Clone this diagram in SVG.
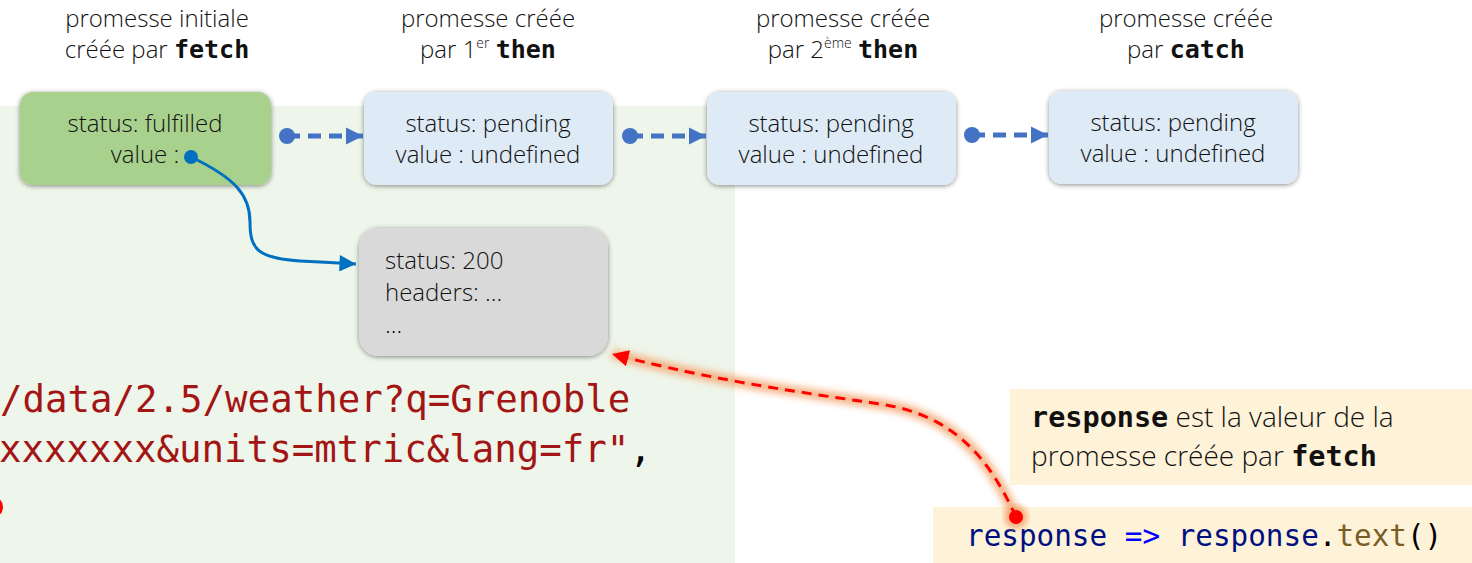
<svg xmlns="http://www.w3.org/2000/svg" width="1472" height="563" viewBox="0 0 1472 563">
<defs>
<style>
.lbl{font-family:"Open Sans","Noto Sans",sans-serif;font-weight:300;font-size:24px;fill:#111;text-anchor:middle}
.kw{font-family:"DejaVu Sans Mono","Liberation Mono",monospace;font-weight:bold;font-size:25px;fill:#111}
.sup{font-size:14px}
.bx{font-family:"Open Sans","Noto Sans",sans-serif;font-weight:300;font-size:24px;fill:#111}
.code{font-family:"DejaVu Sans Mono","Liberation Mono",monospace;font-size:37.4px;fill:#A31515}
.code2{font-family:"DejaVu Sans Mono","Liberation Mono",monospace;font-size:29.3px}
.note{font-family:"Open Sans","Noto Sans",sans-serif;font-weight:300;font-size:28px;fill:#111}
.notekw{font-family:"DejaVu Sans Mono","Liberation Mono",monospace;font-weight:bold;font-size:28.5px;fill:#111}
.dash{fill:none;stroke:#4472C4;stroke-width:5;stroke-dasharray:13 8}
</style>
<filter id="sh" x="-10%" y="-10%" width="120%" height="130%">
<feDropShadow dx="0" dy="1" stdDeviation="2.5" flood-color="#000" flood-opacity="0.45"/>
</filter>
<filter id="glow" x="-10%" y="-10%" width="120%" height="120%">
<feGaussianBlur stdDeviation="3.5"/>
</filter>
<marker id="ab" viewBox="0 0 10 10" refX="10" refY="5" markerWidth="3.4" markerHeight="3.6" orient="auto" markerUnits="strokeWidth">
<path d="M0,0 L10,5 L0,10 Z" fill="#4472C4"/>
</marker>
<marker id="ab2" viewBox="0 0 10 10" refX="10" refY="5" markerWidth="6" markerHeight="5.5" orient="auto" markerUnits="strokeWidth">
<path d="M0,0 L10,5 L0,10 Z" fill="#0070C0"/>
</marker>
<marker id="ar" viewBox="0 0 10 10" refX="10" refY="5" markerWidth="6" markerHeight="5.5" orient="auto" markerUnits="strokeWidth">
<path d="M0,0 L10,5 L0,10 Z" fill="#FF0000"/>
</marker>
</defs>
<rect x="0" y="0" width="1472" height="563" fill="#fff"/>
<rect id="bg-green" x="0" y="106" width="735" height="457" fill="#EEF5EA"/>

<g id="code">
<text class="code" x="0" y="412">/data/2.5/weather?q=Grenoble</text>
<text class="code" x="-1" y="462">xxxxxxx&amp;units=mtric&amp;lang=fr"<tspan fill="#000">,</tspan></text>
<ellipse cx="-8" cy="507" rx="11" ry="11" fill="#FF0000"/>
</g>

<g id="labels">
<text class="lbl" x="157" y="27">promesse initiale</text>
<text class="lbl" x="157" y="58">créée par <tspan class="kw">fetch</tspan></text>
<text class="lbl" x="488" y="27">promesse créée</text>
<text class="lbl" x="488" y="58">par 1<tspan class="sup" dy="-10">er</tspan><tspan dy="10"> </tspan><tspan class="kw">then</tspan></text>
<text class="lbl" x="843" y="27">promesse créée</text>
<text class="lbl" x="843" y="58">par 2<tspan class="sup" dy="-10">ème</tspan><tspan dy="10"> </tspan><tspan class="kw">then</tspan></text>
<text class="lbl" x="1186" y="27">promesse créée</text>
<text class="lbl" x="1186" y="58">par <tspan class="kw">catch</tspan></text>
</g>

<g id="node-fetch">
<rect x="20" y="92" width="251" height="93" rx="13" fill="#A9D18E" filter="url(#sh)"/>
<text class="bx" x="145" y="132" text-anchor="middle">status: fulfilled</text>
<text class="bx" x="145" y="163" text-anchor="middle">value :</text>
</g>
<g id="node-then1">
<rect x="364" y="92" width="249" height="93" rx="13" fill="#DEEAF6" filter="url(#sh)"/>
<text class="bx" x="488" y="132" text-anchor="middle">status: pending</text>
<text class="bx" x="488" y="163" text-anchor="middle">value : undefined</text>
</g>
<g id="node-then2">
<rect x="707" y="92" width="249" height="93" rx="13" fill="#DEEAF6" filter="url(#sh)"/>
<text class="bx" x="831" y="132" text-anchor="middle">status: pending</text>
<text class="bx" x="831" y="163" text-anchor="middle">value : undefined</text>
</g>
<g id="node-catch">
<rect x="1049" y="91" width="249" height="93" rx="13" fill="#DEEAF6" filter="url(#sh)"/>
<text class="bx" x="1173" y="131" text-anchor="middle">status: pending</text>
<text class="bx" x="1173" y="162" text-anchor="middle">value : undefined</text>
</g>
<g id="node-response">
<rect x="359" y="228" width="249" height="128" rx="20" fill="#D9D9D9" filter="url(#sh)"/>
<text class="bx" x="385" y="269">status: 200</text>
<text class="bx" x="385" y="301">headers: …</text>
<text class="bx" x="385" y="333">…</text>
</g>

<g id="note">
<rect x="1010" y="389" width="462" height="96" fill="#FEF3D9"/>
<text x="1031" y="427"><tspan class="notekw">response</tspan><tspan class="note"> est la valeur de la</tspan></text>
<text class="note" x="1031" y="466">promesse créée par  <tspan class="notekw">fetch</tspan></text>
</g>
<g id="code-callback">
<rect x="933" y="507" width="539" height="56" fill="#FEF3D9"/>
<text class="code2" x="966" y="546"><tspan fill="#001080">response</tspan><tspan fill="#000"> </tspan><tspan fill="#0000FF">=&gt;</tspan><tspan fill="#000"> </tspan><tspan fill="#001080">response</tspan><tspan fill="#000">.</tspan><tspan fill="#795E26">text</tspan><tspan fill="#000">()</tspan></text>
</g>

<g id="connectors">
<circle cx="287" cy="136" r="8" fill="#4472C4"/>
<path class="dash" d="M287,136 L363,136" marker-end="url(#ab)"/>
<circle cx="630" cy="136" r="8" fill="#4472C4"/>
<path class="dash" d="M630,136 L706,136" marker-end="url(#ab)"/>
<circle cx="972" cy="135" r="8" fill="#4472C4"/>
<path class="dash" d="M972,135 L1048,135" marker-end="url(#ab)"/>

<circle cx="191" cy="157" r="7" fill="#0070C0"/>
<path d="M191,157 C235,178 250,195 250,222 C250,250 258,258 300,261 C320,262 335,263 356,264" fill="none" stroke="#0070C0" stroke-width="3" marker-end="url(#ab2)"/>

<path d="M1016,517 C990,460 955,415 880,404 C800,392 720,382 612,354" fill="none" stroke="#F4A46F" stroke-width="10" stroke-opacity="0.85" filter="url(#glow)"/>
<circle cx="1016" cy="517" r="11" fill="#F4A46F" filter="url(#glow)"/>
<path d="M1016,517 C990,460 955,415 880,404 C800,392 720,382 612,354" fill="none" stroke="#FF0000" stroke-width="3" stroke-dasharray="10 7" marker-end="url(#ar)"/>
<circle cx="1016" cy="517" r="7" fill="#FF0000"/>
</g>
</svg>
